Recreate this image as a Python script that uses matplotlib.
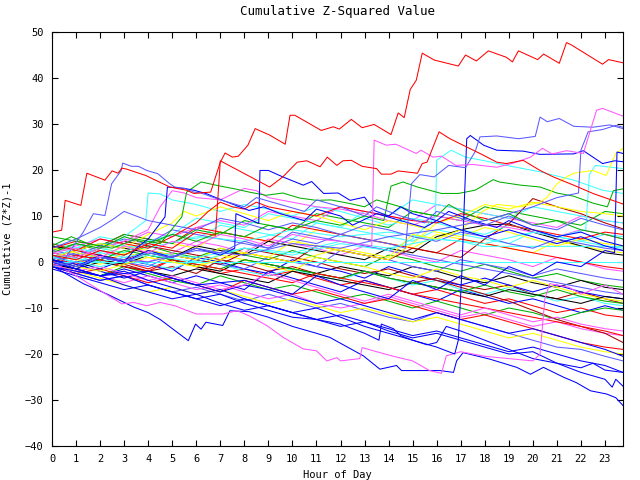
import matplotlib
matplotlib.use("Agg")
import matplotlib.pyplot as plt

RED, GREEN, BLUE = '#ff0000', '#00b000', '#0000ff'
LBLUE, MAGENTA, CYAN = '#5a5aff', '#ff55ff', '#40ffff'
YELLOW, DRED, BLACK = '#ffff00', '#aa0000', '#000000'

# hourly grid used by the background "tangle" lines
HOURS = list(range(24)) + [23.75]

t01 = [1.0, -0.5, 1.5, 0.0, -1.5, 0.5, -1.0, -2.5, -1.5, -3.0, -2.0, -3.5, -5.0, -4.0, -5.5, -7.0, -6.0, -7.5, -9.0, -8.0, -9.5, -11.0, -10.0, -11.5, -12.0]
t02 = [2.5, 4.0, 2.5, 1.5, 3.5, 2.0, 1.0, 3.0, 1.5, 0.5, 2.5, 1.0, 0.0, -1.0, 1.5, 0.5, -1.0, -2.0, -0.5, -2.0, -3.5, -2.5, -4.0, -5.0, -5.5]
t03 = [-0.5, -2.0, -3.0, -1.5, -3.0, -4.5, -3.0, -4.5, -6.0, -2.0, -3.5, -5.0, -6.5, -4.0, -5.5, -7.0, -8.5, -6.0, -7.5, -9.0, -8.0, -9.5, -11.0, -9.5, -10.5]
t04 = [1.5, 0.5, 2.5, 1.0, 0.0, 2.0, 4.5, 3.5, 2.0, 5.0, 4.0, 3.0, 1.5, 3.5, 2.5, 1.0, 0.0, 2.5, 1.5, 0.5, -1.0, 1.0, 0.0, -1.5, -2.0]
t05 = [4.0, 3.0, 5.5, 4.5, 3.5, 6.0, 5.0, 8.0, 7.0, 6.0, 5.0, 8.5, 7.5, 6.5, 5.5, 4.5, 7.0, 6.0, 5.0, 4.0, 6.5, 5.5, 4.5, 3.5, 3.0]
t06 = [0.5, -1.0, 0.5, -0.5, -2.0, -1.0, -2.5, 0.5, -0.5, -2.0, -1.0, -2.5, -3.5, -2.0, -3.5, -4.5, -3.5, -5.0, -6.0, -5.0, -7.0, -8.0, -6.5, -8.0, -9.0]
t07 = [2.0, 1.0, 3.0, 2.0, 5.0, 4.0, 3.0, 6.5, 5.5, 4.5, 3.5, 7.0, 6.0, 5.0, 4.0, 3.0, 6.0, 5.0, 4.0, 3.0, 2.0, 4.5, 3.5, 2.5, 2.0]
t08 = [0.0, 1.5, 0.5, -0.5, 1.5, 0.5, -1.0, -2.0, 0.5, -0.5, -1.5, -2.5, -1.0, -2.0, -3.0, -1.0, -2.0, -3.5, -4.5, -3.0, -4.5, -5.5, -4.0, -5.5, -6.0]
t09 = [-1.0, -2.5, -4.0, -3.0, -5.0, -6.5, -5.5, -7.0, -8.5, -7.0, -8.5, -10.0, -9.0, -10.5, -12.0, -13.0, -11.0, -12.5, -14.0, -15.5, -17.0, -18.5, -19.0, -20.5, -21.5]
t10 = [3.0, 4.5, 3.5, 6.0, 5.0, 4.0, 7.5, 6.5, 5.5, 4.5, 8.0, 7.0, 6.0, 5.0, 4.0, 3.0, 2.0, 5.0, 4.0, 3.0, 2.0, 1.0, 0.0, -1.0, -1.5]
t11 = [-0.5, -1.5, -3.0, -1.0, -2.5, -4.0, -5.0, -3.0, -4.5, -6.0, -5.0, -6.5, -8.0, -7.0, -8.5, -10.0, -8.5, -10.0, -11.5, -10.0, -11.0, -12.5, -11.0, -10.0, -10.5]
t12 = [1.0, 0.0, -1.5, 0.5, -0.5, -2.0, 1.0, 0.0, -1.5, -2.5, 0.5, -1.0, -2.0, -3.5, -1.0, -2.5, -4.0, -5.0, -3.5, -5.0, -6.5, -5.0, -6.5, -7.5, -8.0]
t13 = [0.0, -1.5, -3.0, -4.5, -3.0, -4.5, -6.0, -5.0, -6.5, -8.0, -7.0, -9.0, -10.0, -9.0, -7.5, -9.0, -10.5, -12.0, -11.0, -12.5, -14.0, -13.0, -14.5, -15.5, -16.0]
t14 = [-0.5, -2.0, -3.5, -5.0, -6.5, -5.5, -7.0, -6.0, -7.5, -9.0, -8.0, -9.5, -11.0, -10.0, -11.5, -13.0, -12.0, -13.5, -15.0, -16.5, -15.5, -17.0, -18.5, -19.5, -20.0]
t15 = [1.0, 0.0, 2.0, 1.0, -0.5, -1.5, 0.5, -0.5, -2.0, -3.0, -1.5, -3.0, -4.0, -2.0, -3.5, -5.0, -4.0, -6.0, -7.0, -5.5, -7.0, -8.5, -7.5, -9.0, -9.5]
t16 = [2.0, 1.0, 3.0, 4.5, 3.5, 2.5, 1.5, 0.5, 3.0, 2.0, 1.0, 0.0, -1.5, -2.5, -1.5, -3.0, -4.0, -5.5, -7.0, -8.5, -10.5, -12.5, -14.0, -15.5, -17.5]
t17 = [3.5, 2.5, 4.0, 3.0, 2.0, 1.0, 3.5, 2.5, 1.5, 4.5, 3.5, 2.5, 1.5, 0.5, 3.0, 2.0, 5.5, 7.0, 8.0, 8.3, 6.5, 5.0, 3.5, 2.0, 1.5]
t18 = [0.5, 2.0, 1.0, 0.0, -1.0, 1.5, 0.5, -0.5, -1.5, 1.0, 0.0, -1.0, 2.5, 1.5, 0.5, -1.0, -2.0, 0.5, -0.5, -1.5, -3.0, -1.5, -2.5, -3.5, -4.0]
t19 = [-1.0, -2.5, -1.5, -3.0, -4.5, -3.5, -5.0, -6.5, -4.0, -5.5, -7.0, -6.0, -7.5, -9.0, -8.0, -9.5, -11.0, -12.5, -11.5, -13.0, -14.5, -16.0, -17.5, -18.5, -19.0]
t20 = [5.5, 4.5, 3.5, 6.0, 5.0, 4.0, 7.0, 6.0, 9.0, 8.0, 7.0, 10.5, 9.5, 8.5, 7.5, 11.0, 10.0, 9.0, 12.0, 11.0, 10.0, 9.0, 8.0, 11.0, 10.5]
t21 = [-1.5, -3.0, -4.5, -6.0, -5.0, -6.5, -8.0, -9.5, -8.0, -9.5, -11.0, -12.5, -11.5, -13.0, -14.5, -16.0, -15.0, -16.5, -18.0, -19.5, -18.5, -20.0, -21.5, -22.5, -24.0]
t22 = [1.5, 0.5, -0.5, 2.0, 1.0, 0.0, -1.0, 1.5, 0.5, -1.0, -2.0, 1.0, 0.0, -1.0, -2.5, -3.5, -1.5, -3.0, -4.0, -5.5, -4.0, -5.5, -7.0, -8.0, -8.5]
t23 = [2.0, 3.5, 5.0, 4.0, 6.5, 5.5, 7.5, 9.0, 8.0, 11.0, 10.0, 9.0, 12.0, 11.0, 10.0, 9.0, 12.5, 11.5, 10.5, 9.5, 8.5, 7.5, 10.0, 9.0, 8.5]
t24 = [0.0, 1.5, 3.0, 2.0, 4.5, 6.0, 9.5, 8.5, 7.5, 10.5, 9.5, 8.5, 7.5, 11.0, 10.0, 13.5, 12.5, 11.5, 10.5, 9.5, 12.0, 11.0, 10.0, 9.0, 8.5]
t25 = [1.0, 2.5, 1.5, 0.5, 2.5, 1.5, 0.5, -0.5, 2.0, 1.0, 0.0, 3.5, 2.5, 1.5, 0.5, 3.0, 2.0, 1.0, 5.0, 8.3, 13.8, 12.0, 10.5, 8.5, 7.2]
t26 = [-0.5, -1.5, 0.0, -1.0, -2.0, -3.0, -1.5, -2.5, -3.5, -4.5, -2.0, -3.0, -4.0, -5.0, -6.0, -4.5, -5.5, -6.5, -7.5, -6.0, -7.0, -8.0, -9.0, -7.5, -8.0]
t27 = [2.5, 1.5, 3.5, 5.0, 4.0, 7.0, 6.0, 5.0, 4.0, 3.0, 6.5, 5.5, 4.5, 3.5, 2.5, 1.5, 0.5, -0.5, -1.5, -2.5, -3.5, -4.5, -5.5, -6.5, -7.0]
t28 = [0.5, -1.0, 0.5, 2.5, 1.5, 0.5, -0.5, -1.5, 0.5, -0.5, -1.5, -2.5, -3.5, -2.0, -3.5, -4.5, -5.5, -6.5, -5.0, -6.5, -7.5, -6.0, -7.5, -8.5, -9.0]
t29 = [0.0, 1.5, 0.5, -1.0, -2.0, 0.5, -0.5, -1.5, -2.5, -3.5, -4.5, -2.5, -3.5, -4.5, -5.5, -7.0, -8.0, -9.0, -10.0, -11.0, -12.0, -13.0, -14.0, -15.0, -16.0]
t30 = [3.0, 2.0, 1.0, 3.5, 2.5, 1.5, 0.5, 3.0, 2.0, 1.0, 4.5, 3.5, 2.5, 1.5, 0.5, 4.0, 8.5, 10.0, 12.5, 11.5, 13.0, 12.0, 11.0, 10.5, 10.0]
t31 = [0.5, -0.5, -2.0, -3.5, -2.0, -3.5, -5.0, -6.5, -5.0, -6.0, -7.5, -9.0, -8.0, -9.5, -11.0, -12.5, -11.0, -12.5, -14.0, -15.5, -14.5, -16.0, -17.5, -19.0, -20.5]
t32 = [-0.5, -2.0, -1.0, -2.5, -4.0, -3.0, -4.5, -6.0, -5.0, -2.5, -4.0, -5.5, -7.0, -8.5, -7.0, -8.5, -10.0, -11.5, -10.0, -11.5, -13.0, -12.0, -13.5, -14.5, -15.0]

tangle = [(t01, RED), (t02, GREEN), (t03, BLUE), (t04, MAGENTA), (t05, CYAN), (t06, DRED),
          (t07, YELLOW), (t08, BLACK), (t09, LBLUE), (t10, RED), (t11, GREEN), (t12, BLUE),
          (t13, MAGENTA), (t14, YELLOW), (t15, CYAN), (t16, DRED), (t17, BLACK), (t18, LBLUE),
          (t19, RED), (t20, GREEN), (t21, BLUE), (t22, YELLOW), (t23, MAGENTA), (t24, CYAN),
          (t25, DRED), (t26, BLACK), (t27, LBLUE), (t28, GREEN), (t29, RED), (t30, YELLOW),
          (t31, BLUE), (t32, MAGENTA)]

# lines traced by their breakpoints (hour, value)
e1_h = [0, 1, 2, 3, 3.9, 4.0, 4.5, 5, 6, 7, 8, 9, 10, 11, 12, 13, 14, 15, 16, 17, 18, 19, 20, 21, 22, 23, 23.75]
e1_v = [1, 3, 2, 5.5, 9, 15, 14.8, 13.5, 12.5, 11, 12.5, 11.5, 10, 12, 11, 9.5, 8, 9.5, 8.5, 7, 6, 8, 7, 5.5, 4.5, 6, 5.5]
e2_h = [0, 1, 2, 3, 4, 4.5, 5, 5.5, 6, 7, 8, 8.5, 9, 10, 11, 12, 13, 14, 15, 16, 17, 18, 19, 20, 21, 22, 23, 23.75]
e2_v = [2, 1, 3, 4.5, 7, 12, 15.5, 15, 14, 13.5, 16, 15.5, 14, 13, 12, 11.5, 10.5, 9, 8, 10, 9, 8, 7.5, 6.5, 5.5, 7, 6, 5]
e3_h = [0, 1, 2, 3, 4, 5, 5.5, 6, 7, 8, 9, 10, 11, 12, 13, 14, 15, 16, 17, 18, 19, 20, 21, 22, 23, 23.75]
e3_v = [1, 2.5, 4, 3, 6, 8.5, 11, 10, 12, 10.5, 9, 11, 10, 8.5, 7, 9, 8, 6.5, 5.5, 7.5, 6.5, 5, 3.5, 5, 4, 3.5]
e4_h = [0, 1, 2, 3, 4, 5, 6, 6.5, 7, 7.5, 8, 8.5, 9, 10, 11, 12, 13, 14, 15, 16, 17, 18, 19, 20, 21, 22, 23, 23.75]
e4_v = [4, 2.5, 5, 4, 3, 5.5, 8.5, 11, 13, 12, 11.5, 13, 12, 11, 10, 12, 11, 10, 9, 8.5, 10.5, 9.5, 8, 7, 6, 5, 6.5, 6]
e6_h = [0, 1, 2, 2.6, 3, 3.5, 4, 5, 6, 7, 8, 9, 10, 11, 12, 13, 14, 15, 16, 17, 18, 19, 20, 21, 22, 23, 23.75]
e6_v = [3, 5, 7.5, 9.5, 11, 10, 9, 8, 7, 9.5, 8.5, 7, 8.5, 7.5, 6, 8, 7, 5.5, 4.5, 6.5, 5.5, 4, 3, 5, 4, 3, 2.5]

cyan0_h = [0, 23.75]
cyan0_v = [0, 0]
cyan1_h = [0, 2, 4, 6, 8, 10, 12, 14, 16, 17, 17.9, 23.75]
cyan1_v = [2, 4, 3, 5.5, 4.5, 7, 5.5, 6.5, 5, 4.5, 3.4, 3.4]
cyan2_h = [0, 2, 4, 6, 8, 10, 12, 14, 15, 15.95, 16.0, 16.6, 17.2, 18.0, 18.9, 20.3, 21.7, 22.9, 23.75]
cyan2_v = [1, -1, 1.5, 0, 3, 1.5, 4, 2.5, 5, 9.8, 22.1, 24.3, 22.8, 22, 21, 19.6, 17.8, 15.6, 14.9]
cyan3_h = [0, 2, 4, 6, 8, 10, 12, 14, 16, 18, 20, 21, 22.2, 22.35, 22.6, 23.75]
cyan3_v = [1.5, 0, 2, 1, 3, 2, 4.5, 3, 5, 4, 6.5, 5.5, 7, 19, 21, 20.3]

lb1_h = [0, 0.5, 0.9, 1.3, 1.72, 2.2, 2.48, 2.88, 2.94, 3.3, 3.6, 3.94, 4.4, 4.9, 5.1, 5.5, 5.9, 6.2, 7, 8, 8.5, 9.5, 10.5, 11, 12, 13, 13.5, 14.5, 15.5, 16, 17, 18, 19, 20, 21, 22, 23, 23.75]
lb1_v = [1.5, 0.5, 3.5, 6.5, 10.5, 10.1, 17, 19.9, 21.5, 20.8, 20.8, 19.9, 19.2, 17, 16.3, 16, 15.2, 15, 13.5, 12, 14, 12.5, 11, 13.5, 12, 10, 12, 10, 8.5, 11, 9.5, 8, 10, 8, 7, 9.5, 8, 7]
lb2_h = [0, 1, 2, 3, 4, 5, 6, 7, 8, 9, 10, 11, 12, 13, 14, 14.7, 14.95, 15.3, 15.9, 16.5, 17.2, 17.6, 17.8, 18.5, 19.4, 20.1, 20.3, 20.6, 21.1, 21.7, 22.5, 23.2, 23.75]
lb2_v = [0, -1, 1, 0, 2, 1, 3, 2, 4.5, 3, 5, 4, 6, 5, 4, 3, 17, 19, 18.5, 21, 20.5, 24, 27.2, 27.4, 26.8, 27.3, 31.5, 30.5, 31.2, 29.5, 29.3, 29.8, 29.0]
lb3_h = [0, 2, 4, 6, 8, 10, 12, 14, 16, 18, 20, 21, 21.9, 22.0, 22.3, 22.9, 23.45, 23.75]
lb3_v = [-1, 1, 0, 2.5, 1.5, 4, 3, 5.5, 7, 9, 12, 14, 15, 24.3, 28.3, 28.8, 29.7, 29.3]

red1_h = [0, 0.4, 0.55, 1.2, 1.45, 2.2, 2.5, 2.75, 2.9, 3.1, 3.9, 4.9, 5.6, 5.9, 6.6, 7.0, 7.2, 7.5, 7.75, 8.15,
          8.45, 9.05, 9.7, 9.9, 10.1, 11.2, 11.7, 11.95, 12.45, 12.9, 13.4, 14.1, 14.4, 14.65, 14.9, 15.15, 15.4,
          15.9, 16.9, 17.2, 17.65, 18.15, 18.9, 19.15, 19.4, 20.2, 20.45, 21.1, 21.4, 21.6, 22.9, 23.15, 23.75]
red1_v = [6.5, 6.9, 13.4, 12.3, 19.3, 17.8, 19.8, 19.3, 20.4, 20.2, 18.8, 16.3, 15.6, 14.9, 15.2, 21.7, 23.7, 22.8, 23.0, 25.4,
          29.0, 27.6, 25.6, 31.9, 31.9, 28.6, 29.4, 28.9, 31.0, 29.2, 29.9, 27.7, 32.4, 31.4, 37.5, 39.5, 45.4,
          43.9, 42.6, 45.0, 43.7, 45.9, 44.5, 43.5, 45.9, 44.0, 45.2, 43.2, 47.7, 47.2, 43.0, 44.0, 43.3]
red2_h = [0, 1, 2, 3, 4, 5, 6, 6.8, 7.0, 9.05, 9.6, 10.2, 10.6, 11.15, 11.45, 11.85, 12.1, 12.45, 12.9, 13.5, 13.7, 14.1,
          14.4, 15.2, 15.4, 15.6, 16.1, 16.55, 17.25, 17.95, 18.5, 18.9, 19.6, 20.3, 20.85, 21.7, 22.5, 23.75]
red2_v = [1.5, 0.5, 2.5, 1.5, 4, 3, 6.5, 5.8, 22, 16.3, 18.5, 21.7, 22, 20.7, 22.8, 21, 22, 22.1, 20.8, 20.3, 19.1, 19.1,
          19.8, 19.3, 21.4, 21.7, 28.3, 26.8, 25, 23.2, 21.7, 21.4, 22.1, 19.9, 18.5, 16.7, 14.9, 12.6]

mag1_h = [0, 1, 2, 3, 4, 5, 6, 7, 8, 9, 10, 11, 12, 13.3, 13.4, 13.9, 14.3, 14.6, 15.15, 15.35, 15.85, 16.2, 16.8, 17.5,
          18.5, 19.2, 19.9, 20.4, 20.8, 21.4, 22.1, 22.65, 22.9, 23.75]
mag1_v = [2, 3, 1, 3.5, 2, 4.5, 3.5, 6, 5, 3.5, 6, 5, 4.5, 3.5, 26.5, 25.4, 25.6, 24.9, 23.6, 24.3, 22.8, 23, 21, 21.2,
          20.6, 21.5, 22.8, 24.7, 23.5, 24.2, 23.6, 33, 33.4, 31.7]
magb_h = [0, 1, 2.13, 2.9, 3.4, 3.94, 4.5, 5.1, 6.0, 7.1, 7.7, 8.2, 8.93, 9.62, 10.45, 11.0, 11.43, 11.85, 12.0, 12.8,
          12.9, 13.5, 14.2, 15.0, 15.7, 16.2, 16.4, 17, 18, 19, 20, 20.3, 20.5, 20.7, 21.5, 22, 23, 23.75]
magb_v = [0, -3, -6.6, -9.1, -8.8, -9.5, -8.8, -9.5, -11.3, -11.3, -10.6, -11.7, -13.8, -16.4, -18.9, -19.3, -21.5, -20.8,
          -21.5, -21, -18.6, -19.5, -20.5, -21.5, -23.6, -24.2, -20.4, -19.5, -20.5, -21, -21.5, -20, -8, -4.7, -5.5, -7, -5, -7]

db1_h = [0, 1, 2, 3, 4, 5, 6, 7, 7.6, 7.65, 8.6, 8.65, 9.0, 9.6, 10.45, 10.8, 11.3, 11.9, 12.4, 13.0, 13.4, 14, 14.5, 15,
         16, 16.5, 17.5, 18.5, 19, 20, 21, 22, 23, 23.75]
db1_v = [0.5, -1, 1.5, 0, 2.5, 1, 3, 1.5, 3, 10.5, 8.4, 19.9, 19.9, 18.5, 16.7, 17.5, 14.9, 15, 13.4, 14.1, 11.2, 10, 12, 10.5,
         9, 11, 9, 7.5, 9, 7, 5.5, 6.5, 4.5, 3.5]
db2_h = [0, 1, 2, 3, 3.5, 4, 4.7, 4.8, 5.5, 5.9, 6.4, 7.1, 8.2, 8.8, 9.5, 10.5, 11, 12, 12.5, 13.5, 14.5, 15.5, 16, 17,
         18, 19, 20, 21, 22, 23, 23.75]
db2_v = [0, -1.5, 1, 0, 3, 5, 9.8, 16.3, 16, 15.6, 14.9, 13.4, 11.2, 12, 10.5, 9, 11.5, 10, 8, 10.5, 9, 7.5, 9, 7,
         5.5, 7, 5.5, 4, 5.5, 3.5, 2.5]
db3_h = [0, 1, 2, 3, 4, 5, 6, 7, 8, 9, 10, 11, 12, 13, 14, 15, 16, 16.75, 16.9, 17.05, 17.15, 17.25, 17.4, 17.95, 18.5,
         19.6, 20.3, 21.7, 22.1, 22.9, 23.4, 23.75]
db3_v = [0, -1.5, -3, -2, -4, -5.5, -7, -6, -8, -9.5, -11, -10, -12, -14, -15.5, -17, -18.5, -20, -17, -2, 13, 26.8, 27.5,
         25.4, 24.3, 24.1, 23.4, 23.5, 24.2, 21.4, 22, 21.8]
db4_h = [0, 2, 4, 6, 8, 10, 11, 12, 14, 15, 16, 17, 18, 19, 20, 21, 22, 23, 23.4, 23.5, 23.75]
db4_v = [-1, -3, -2, -5, -4, -7, -3, -5, -8, -4, -6, -3, -5, -1, -3, 0, -1, 2.5, 2, 23.9, 23.6]

bb0_h = [0, 1.3, 2.3, 3.4, 4, 4.5, 5.67, 5.97, 6.2, 6.4, 7.1, 7.4, 8.2, 9, 10, 11, 11.56, 12.95, 13.64, 14.33, 14.54, 16.14,
         16.7, 16.83, 17.1, 18.2, 19.33, 19.9, 20.44, 21.3, 21.8, 22.4, 23.07, 23.45, 23.75]
bb0_v = [-0.8, -4.7, -7, -9.8, -11, -12.5, -17.1, -13.5, -14.6, -13.1, -13.8, -10.6, -10.8, -12, -14, -15.5, -16.4, -20.4,
         -23.3, -22.5, -23.6, -23.6, -24, -21.5, -19.7, -21.1, -22.9, -24.4, -22.9, -25.1, -26.2, -28, -28.7, -29.5, -31.2]
bb1_h = [0, 1, 2, 3, 4, 5, 6, 7, 8, 9, 10, 11, 12, 13, 14, 15, 16, 17, 18, 19, 20, 21, 22, 23, 23.3, 23.45, 23.75]
bb1_v = [0.5, -1.5, -3, -5, -6.5, -8, -7, -9, -10.5, -9.5, -11, -12.5, -14, -13, -15, -16.5, -15.5, -17, -18.5, -20, -19.5,
         -22, -24, -25.5, -27.2, -25.5, -27]
bb2_h = [0, 1, 2, 3, 4, 5, 6, 7, 8, 9, 10, 11, 12, 13, 13.6, 13.7, 14.2, 14.5, 15, 15.6, 16, 16.4, 17, 18, 19, 20, 21, 22,
         22.5, 23, 23.75]
bb2_v = [-1, -2.5, -4, -3, -5, -6.5, -8, -7, -9, -10.5, -12, -12.5, -13.5, -15.5, -17, -13.5, -14.5, -16, -17, -18, -17.5,
         -14, -15, -17, -19, -21, -22, -23, -22, -23.5, -24]

grn1_h = [0, 0.8, 1.5, 2.5, 3.5, 4.5, 5.4, 5.6, 6.2, 7.0, 7.6, 8.2, 8.9, 9.6, 10.3, 11.0, 11.6, 12.4, 13, 13.5, 14.5, 15, 16,
          16.5, 17, 18, 19, 20, 21, 22, 23, 23.75]
grn1_v = [3.5, 5.5, 4, 3, 5, 4, 9.8, 15.2, 17.4, 16.5, 15.9, 15.2, 14.5, 15, 13.9, 13.4, 13.5, 12.7, 12, 13.5, 12, 11, 10,
          12.5, 11, 9, 10.5, 8, 9, 7, 6, 5]
grn2_h = [0, 1, 2, 3, 4, 5, 6, 7, 8, 9, 10, 11, 12, 13, 13.8, 14.1, 14.6, 15.2, 16.2, 16.9, 17.6, 18.35, 18.6, 19.5, 20.3,
          21, 21.7, 22.5, 23.1, 23.35, 23.75]
grn2_v = [2, 4, 3, 5.5, 4, 6, 4.5, 6.5, 5.5, 8, 7, 9, 8, 10, 9, 16.5, 17.4, 16.3, 14.9, 14.9, 15.6, 17.9, 17.4, 16.7, 16.3,
          15, 14.3, 12.8, 12, 15.5, 15.9]
yel1_h = [0, 2, 4, 6, 8, 10, 12, 14, 15, 16, 17, 17.9, 18.5, 19.5, 20.3, 20.6, 21, 21.4, 21.7, 22.5, 23.05, 23.45, 23.75]
yel1_v = [0, -2, 1, -1, 2, 0, 3, 1, 6, 5, 7, 11, 12.5, 12, 13, 14.1, 17, 18.5, 19.3, 19.9, 18.8, 23.6, 24.7]

traced = [(cyan0_h, cyan0_v, CYAN), (cyan1_h, cyan1_v, CYAN), (e1_h, e1_v, CYAN), (e2_h, e2_v, MAGENTA),
          (e3_h, e3_v, YELLOW), (e4_h, e4_v, RED), (e6_h, e6_v, LBLUE), (cyan2_h, cyan2_v, CYAN),
          (cyan3_h, cyan3_v, CYAN), (bb2_h, bb2_v, BLUE), (bb1_h, bb1_v, BLUE), (bb0_h, bb0_v, BLUE),
          (magb_h, magb_v, MAGENTA), (grn1_h, grn1_v, GREEN), (grn2_h, grn2_v, GREEN), (yel1_h, yel1_v, YELLOW),
          (db4_h, db4_v, BLUE), (db2_h, db2_v, BLUE), (db1_h, db1_v, BLUE), (db3_h, db3_v, BLUE),
          (lb3_h, lb3_v, LBLUE), (lb1_h, lb1_v, LBLUE), (lb2_h, lb2_v, LBLUE), (mag1_h, mag1_v, MAGENTA),
          (red2_h, red2_v, RED), (red1_h, red1_v, RED)]

plt.rcParams['font.family'] = 'DejaVu Sans Mono'
plt.rcParams['font.size'] = 7.5

fig = plt.figure(figsize=(6.4, 4.8), dpi=100)
ax = fig.add_axes([52 / 640, 34 / 480, 571 / 640, 414 / 480])

for vals, col in tangle:
    ax.plot(HOURS, vals, color=col, lw=0.75)
for hh, vv, col in traced:
    ax.plot(hh, vv, color=col, lw=0.75)

ax.set_xlim(0, 23.75)
ax.set_ylim(-40, 50)
ax.set_xticks(range(24))
ax.set_yticks(range(-40, 51, 10))
ax.tick_params(direction='in', length=4, width=0.8, top=True, right=True, pad=6)
for sp in ax.spines.values():
    sp.set_linewidth(0.8)

ax.set_title('Cumulative Z-Squared Value', pad=12)
ax.set_xlabel('Hour of Day', labelpad=4)
ax.set_ylabel('Cumulative (Z*Z)-1', labelpad=9)

fig.savefig('out.png', dpi=100)
